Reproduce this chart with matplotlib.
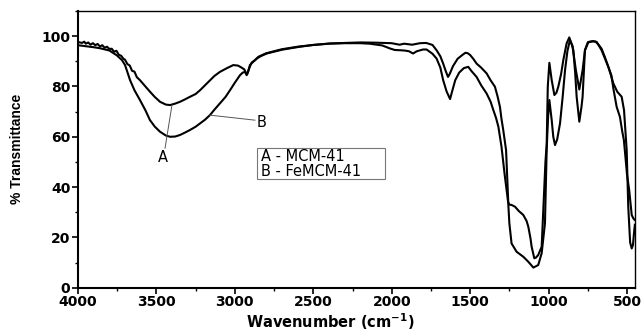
import matplotlib
matplotlib.use("Agg")
import matplotlib.pyplot as plt
from matplotlib.patches import Rectangle
from matplotlib.ticker import MultipleLocator

# Curve A (upper in the O-H band)
wn_a = [4000, 3975, 3960, 3950, 3935, 3920, 3905, 3890, 3875, 3860, 3845, 3830, 3815, 3800,
        3785, 3770, 3755, 3740, 3725, 3710, 3700, 3685, 3670, 3655, 3640, 3625, 3605, 3570,
        3541, 3510, 3477, 3440, 3413, 3380, 3350, 3320, 3286, 3250, 3222, 3190, 3159, 3130,
        3095, 3050, 3010, 2980, 2960, 2940, 2930, 2922, 2910, 2893, 2870, 2850, 2800, 2700,
        2600, 2500, 2400, 2300, 2200, 2100, 2000, 1950, 1920, 1870, 1820, 1780, 1740, 1714,
        1690, 1672, 1655, 1641, 1630, 1610, 1580, 1550, 1530, 1515, 1500, 1480, 1459, 1430,
        1395, 1370, 1342, 1325, 1310, 1300, 1289, 1271, 1257, 1250, 1236, 1214, 1190, 1161,
        1140, 1129, 1115, 1108, 1091, 1080, 1066, 1044, 1033, 1020, 1012, 1005, 995, 980,
        963, 950, 938, 920, 906, 885, 868, 847, 826, 804, 783, 768, 750, 736, 715, 693,
        662, 640, 619, 600, 587, 562, 534, 519, 502, 492, 480, 470, 462, 455, 450]
t_a = [97.7, 97.3, 97.8, 97.0, 97.5, 96.6, 97.2, 96.4, 96.9, 95.9, 96.4, 95.4, 95.8, 94.9,
       95.0, 93.8, 94.2, 92.6, 92.2, 91.0, 90.6, 88.9, 88.3, 86.2, 85.9, 83.7, 82.5, 80.0,
       77.9, 75.8, 73.9, 72.8, 72.6, 73.2, 73.9, 74.8, 75.9, 77.0, 78.5, 80.5, 82.5, 84.2,
       85.8, 87.3, 88.5, 88.3, 87.6, 86.8, 85.5, 84.8, 87.0, 89.5, 90.5, 91.8, 93.2, 94.8,
       95.8, 96.5, 97.0, 97.3, 97.5, 97.4, 97.2, 96.6, 97.0, 96.6, 97.2, 97.3, 96.5, 94.4,
       92.0, 89.1, 86.0, 83.8, 85.0, 88.0, 91.0, 92.5, 93.4, 93.2, 92.5, 91.0, 89.1, 87.5,
       85.2, 82.5, 79.9, 76.0, 71.9, 67.0, 62.7, 54.7, 34.0, 33.0, 32.9, 32.2, 30.5, 28.9,
       26.5, 24.2, 19.5, 16.3, 11.7, 12.0, 13.0, 16.3, 32.2, 50.0, 57.0, 80.0, 89.4, 82.5,
       76.6, 77.5, 79.9, 85.0, 90.5, 97.1, 99.5, 95.8, 86.5, 78.8, 86.5, 94.4, 97.5, 97.7,
       98.0, 97.7, 94.4, 91.0, 87.8, 84.0, 81.2, 77.9, 75.9, 70.6, 54.7, 32.2, 18.0, 15.6,
       17.0, 22.0, 25.0]

# Curve B (lower in the O-H band)
wn_b = [4000, 3900, 3860, 3800, 3753, 3720, 3700, 3668, 3640, 3605, 3570, 3541, 3510, 3477,
        3440, 3413, 3380, 3350, 3320, 3286, 3250, 3222, 3190, 3159, 3130, 3095, 3060, 3031,
        3000, 2967, 2950, 2935, 2925, 2915, 2904, 2880, 2861, 2830, 2797, 2700, 2585, 2500,
        2394, 2300, 2200, 2139, 2060, 2011, 1980, 1947, 1920, 1890, 1864, 1840, 1800, 1778,
        1740, 1714, 1690, 1672, 1650, 1628, 1615, 1595, 1570, 1540, 1512, 1490, 1459, 1430,
        1395, 1370, 1352, 1335, 1320, 1300, 1280, 1257, 1250, 1236, 1204, 1161, 1129, 1097,
        1066, 1044, 1023, 1012, 1003, 995, 980, 970, 959, 945, 927, 910, 895, 880, 864, 850,
        842, 830, 821, 804, 790, 783, 775, 768, 746, 720, 700, 680, 662, 640, 619, 600, 587,
        566, 545, 530, 520, 510, 500, 486, 470, 460, 452]
t_b = [96.4, 95.6, 95.2, 94.3, 92.4, 90.5, 88.5, 82.5, 78.5, 74.6, 70.5, 66.6, 64.0, 62.0,
       60.5, 60.0, 60.1, 60.7, 61.6, 62.7, 64.0, 65.3, 66.8, 68.6, 70.8, 73.3, 75.8, 78.5,
       81.5, 84.5, 85.5, 85.8, 84.5, 86.0, 88.5, 90.0, 91.1, 92.2, 93.1, 94.6, 95.8, 96.5,
       97.1, 97.2, 97.2, 97.0, 96.3, 95.1, 94.5, 94.4, 94.3, 94.0, 93.1, 94.0, 94.7, 94.7,
       93.0, 91.1, 87.5, 82.5, 78.0, 75.0, 78.0, 82.5, 85.5, 87.3, 87.8, 86.0, 83.8, 80.5,
       77.2, 74.0, 70.6, 67.5, 64.0, 56.0, 45.0, 33.5, 25.6, 17.6, 14.3, 12.3, 10.3, 8.0,
       9.0, 13.7, 25.6, 55.0, 68.0, 74.6, 66.6, 60.0, 56.7, 59.0, 65.3, 76.0, 86.5, 94.0,
       98.4, 96.5, 94.4, 85.0, 75.9, 66.0, 72.0, 75.9, 86.0, 94.4, 97.7, 98.0, 97.8, 96.5,
       95.0, 91.5, 87.8, 84.5, 79.2, 71.9, 67.9, 62.0, 58.7, 52.0, 45.0, 38.8, 28.9, 27.6,
       27.0]

legend_lines = ["A - MCM-41", "B - FeMCM-41"]
x_ticks = [4000, 3500, 3000, 2500, 2000, 1500, 1000, 500]
y_ticks = [0, 20, 40, 60, 80, 100]

plt.rcParams['font.family'] = ['DejaVu Sans']

fig = plt.figure(figsize=(6.43, 3.33), dpi=100)
ax = fig.add_axes([78 / 643, 1 - 287.7 / 333, (635 - 78) / 643, (287.7 - 11) / 333])

ax.plot(wn_a, t_a, color='black', lw=1.5, solid_joinstyle='round')
ax.plot(wn_b, t_b, color='black', lw=1.5, solid_joinstyle='round')

ax.set_xlim(4000, 449)
ax.set_ylim(0, 110)
ax.set_xticks(x_ticks)
ax.set_yticks(y_ticks)
ax.xaxis.set_minor_locator(MultipleLocator(250))
ax.yaxis.set_minor_locator(MultipleLocator(10))
ax.tick_params(which='major', direction='out', length=4, width=1.2, labelsize=10, pad=1.5)
ax.tick_params(which='minor', direction='out', length=2.5, width=1.0)
ax.tick_params(axis='x', which='both', top=False)
ax.tick_params(axis='y', which='both', right=False)
for lab in ax.get_xticklabels() + ax.get_yticklabels():
    lab.set_fontweight('bold')

for side in ['left', 'bottom']:
    ax.spines[side].set_linewidth(1.5)
for side in ['top', 'right']:
    ax.spines[side].set_linewidth(1.0)

ax.set_xlabel('Wavenumber (cm$^{\\mathbf{-1}}$)', fontsize=10.5, fontweight='bold')
ax.xaxis.set_label_coords((330 - 78) / 557, -(322 - 287.7) / 276.7)
ax.xaxis.label.set_va('center')
ax.set_ylabel('% Transmittance', fontsize=10, fontweight='bold',
              family=['Liberation Sans', 'DejaVu Sans'])
ax.yaxis.set_label_coords(-(78 - 17) / 557, 0.5)
ax.yaxis.label.set_va('center')

# annotations
ax.plot([3445, 3401], [55.5, 72.6], color='#555555', lw=0.7)
ax.text(3458, 51.8, 'A', fontsize=10.5, ha='center', va='center')
ax.plot([3159, 2872], [68.6, 66.6], color='#555555', lw=0.7)
ax.text(2827, 65.8, 'B', fontsize=10.5, ha='center', va='center')

# legend box
ax.add_patch(Rectangle((2859, 43.2), 2045 - 2859, 55.5 - 43.2, fill=False,
                       edgecolor='#777777', lw=0.8))
ax.text(2835, 52.3, legend_lines[0], fontsize=10.5, ha='left', va='center')
ax.text(2835, 46.2, legend_lines[1], fontsize=10.5, ha='left', va='center')

fig.savefig('out.png', dpi=100)
